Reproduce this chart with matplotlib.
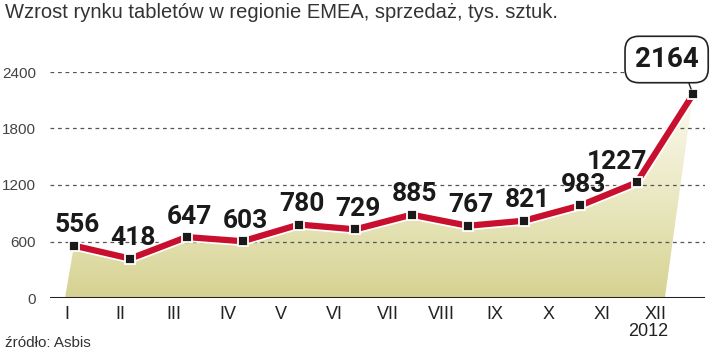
import numpy as np
import matplotlib.pyplot as plt
import matplotlib.patheffects as pe
from matplotlib.colors import LinearSegmentedColormap
from matplotlib.patches import Polygon

months = ['I', 'II', 'III', 'IV', 'V', 'VI', 'VII', 'VIII', 'IX', 'X', 'XI', 'XII']
sales = [556, 418, 647, 603, 780, 729, 885, 767, 821, 983, 1227, 2164]
yticks = [0, 600, 1200, 1800, 2400]

title = 'Wzrost rynku tabletów w regionie EMEA, sprzedaż, tys. sztuk.'
source = 'źródło: Asbis'
year = '2012'

bold = ['Roboto', 'DejaVu Sans']
plain = ['Liberation Sans', 'DejaVu Sans']

fig = plt.figure(figsize=(7.2, 3.55), dpi=100)
ax = fig.add_axes([50 / 720, 57 / 355, 655 / 720, 226 / 355])

x = np.arange(len(sales))
ax.set_xlim(-0.4265, 11.213)
ax.set_ylim(0, 2400)

# gradient fill under the line
poly_x = np.concatenate([[-0.16], x, [10.5]])
poly_y = np.concatenate([[0], sales, [0]])
cmap = LinearSegmentedColormap.from_list('olive', ['#d6d292', '#ebe9c4', '#fbfaf0'])
grad = np.linspace(0, 1, 256).reshape(-1, 1)
img = ax.imshow(grad, extent=[-0.5, 11.5, 0, 2200], origin='lower', aspect='auto',
                cmap=cmap, zorder=1)
clip = Polygon(np.column_stack([poly_x, poly_y]), closed=True, transform=ax.transData,
               facecolor='none', edgecolor='none')
ax.add_patch(clip)
img.set_clip_path(clip)

for t in yticks[1:]:
    ax.axhline(t, color='#555555', lw=0.9, ls=(0, (3, 3)), zorder=2)
ax.axhline(0, color='#222222', lw=2.2, zorder=3)

ax.plot(x, sales, color='#c8102e', lw=4.5, solid_capstyle='butt', zorder=4,
        path_effects=[pe.Stroke(linewidth=7, foreground='white'), pe.Normal()])
ax.plot(x, sales, ls='none', marker='s', ms=7.5, color='#1a1a1a',
        markeredgecolor='white', markeredgewidth=1.3, zorder=5)

for i, v in enumerate(sales[:-1]):
    dx = -14 if i == 10 else 2
    ax.annotate(str(v), (i, v), xytext=(dx, 6), textcoords='offset points',
                ha='center', va='bottom', fontsize=19, fontweight='bold',
                family=bold, color='#1a1a1a', zorder=6)

ax.annotate(str(sales[-1]), (11, sales[-1]), xytext=(-19, 25), textcoords='offset points',
            ha='center', va='center', fontsize=20, fontweight='bold', family=bold,
            color='#1a1a1a', zorder=6,
            bbox=dict(boxstyle='round,pad=0.35,rounding_size=0.5', fc='white',
                      ec='#222222', lw=1.2),
            arrowprops=dict(arrowstyle='-', color='#222222', lw=1.0,
                            relpos=(0.79, 0), shrinkA=0, shrinkB=4))

ax.set_xticks(np.arange(len(months)) * 0.95 - 0.12)
ax.set_xticklabels(months, fontsize=13, family=plain, color='#222222')
ax.set_yticks(yticks)
ax.set_yticklabels([str(t) for t in yticks], fontsize=11, family=plain, color='#444444')
ax.tick_params(axis='both', length=0)
ax.tick_params(axis='x', pad=6)
ax.tick_params(axis='y', pad=10)
for s in ax.spines.values():
    s.set_visible(False)
ax.patch.set_alpha(0)

fig.text(5 / 720, 1 - 12 / 355, title, fontsize=14.5, family=plain, color='#333333',
         va='center', ha='left')
fig.text(5 / 720, 1 - 343 / 355, source, fontsize=11, family=plain, color='#333333',
         va='center', ha='left')
fig.text(668 / 720, 1 - 331 / 355, year, fontsize=13, family=plain, color='#222222',
         va='center', ha='right')

fig.savefig('out.png', dpi=100)
